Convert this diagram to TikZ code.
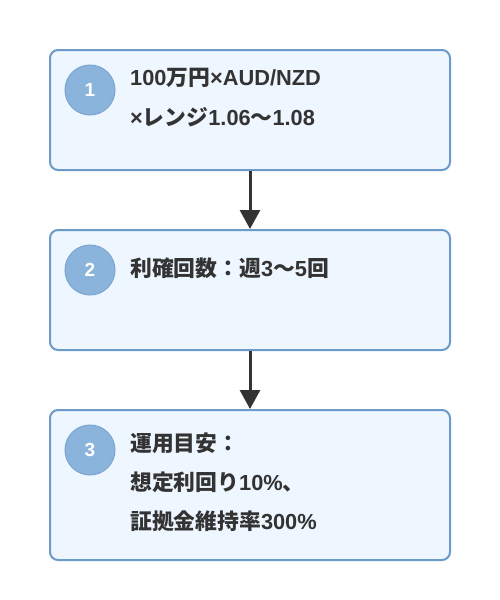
\documentclass[tikz,border=0pt]{standalone}
\usepackage{fontspec}
\setmainfont{Liberation Sans}
\newfontfamily\cjk{Noto Sans CJK JP}
\usetikzlibrary{arrows.meta}
\definecolor{boxfill}{HTML}{EEF6FF}
\definecolor{boxline}{HTML}{6B9BC9}
\definecolor{circfill}{HTML}{8AB4DC}
\definecolor{circline}{HTML}{79A5D0}
\definecolor{txtcol}{HTML}{333333}
\tikzset{
  stepbox/.style={draw=boxline, fill=boxfill, line width=2pt, rounded corners=8pt,
    minimum width=400pt, inner sep=0pt},
  numcirc/.style={circle, draw=circline, fill=circfill, line width=1pt,
    minimum size=50pt, inner sep=0pt, text=white, font=\fontsize{19}{19}\selectfont\bfseries},
  txt/.style={anchor=base west, inner sep=0pt, text=txtcol,
    font=\fontsize{21.8}{22}\selectfont\bfseries},
  flow/.style={draw=txtcol, line width=3pt, -{Triangle[length=19pt,width=20pt]}},
}
\begin{document}
\begin{tikzpicture}[x=1pt,y=-1pt]
\useasboundingbox (0,0) rectangle (500,600);
\node[stepbox, minimum height=120pt] (b1) at (250,110) {};
\node[stepbox, minimum height=120pt] (b2) at (250,290) {};
\node[stepbox, minimum height=150pt] (b3) at (250,485) {};
\node[numcirc] (c1) at (90,90) {1};
\node[numcirc] (c2) at (90,270) {2};
\node[numcirc] (c3) at (90,450) {3};
\node[txt] (t1a) at (130,85) {100{\cjk 万円}×AUD/NZD};
\node[txt] (t1b) at (130,125) {×{\cjk レンジ}1.06{\cjk 〜}1.08};
\node[txt] (t2a) at (130,276) {{\cjk 利確回数：週}3{\cjk 〜}5{\cjk 回}};
\node[txt] (t3a) at (130,451) {{\cjk 運用目安：}};
\node[txt] (t3b) at (130,490) {{\cjk 想定利回り}10\%{\cjk 、}};
\node[txt] (t3c) at (130,529) {{\cjk 証拠金維持率}300\%};
\draw[flow] (b1.south) -- (b2.north);
\draw[flow] (b2.south) -- (b3.north);
\end{tikzpicture}
\end{document}
